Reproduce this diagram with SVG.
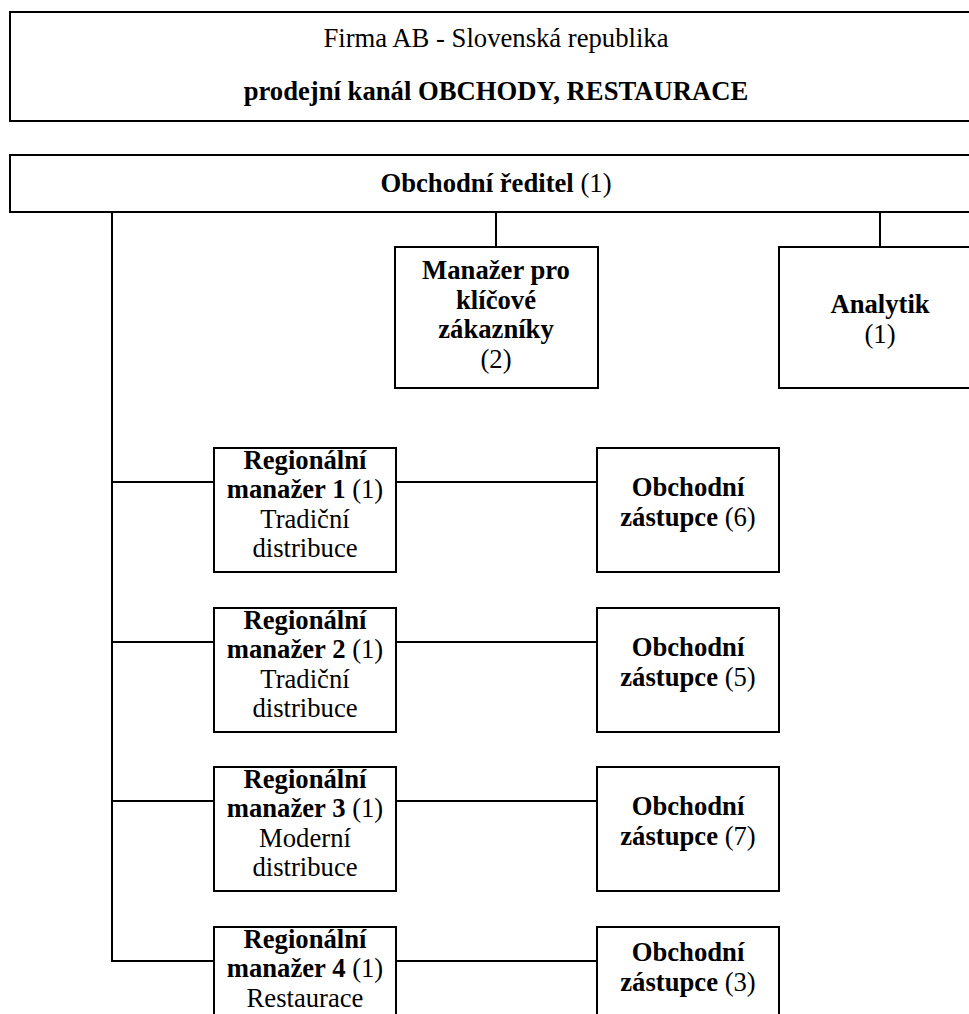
<svg xmlns="http://www.w3.org/2000/svg" width="969" height="1014" viewBox="0 0 969 1014">
  <style>
    .box { fill: #ffffff; stroke: #000000; stroke-width: 2; }
    .link { fill: none; stroke: #000000; stroke-width: 2; }
    text { font-family: "Liberation Serif", "Times New Roman", serif; font-size: 26.67px; fill: #000000; text-anchor: middle; }
    .b { font-weight: bold; }
  </style>
  <rect width="969" height="1014" fill="#ffffff"/>

  <!-- connectors -->
  <g id="connectors">
    <path class="link" d="M112 212 V961 H214"/>
    <path class="link" d="M112 482 H214"/>
    <path class="link" d="M112 642 H214"/>
    <path class="link" d="M112 801 H214"/>
    <path class="link" d="M496 212 V247"/>
    <path class="link" d="M880 212 V247"/>
    <path class="link" d="M396 482 H597"/>
    <path class="link" d="M396 642 H597"/>
    <path class="link" d="M396 801 H597"/>
    <path class="link" d="M396 961 H597"/>
  </g>

  <!-- header -->
  <g id="header">
    <rect class="box" x="10" y="12" width="972" height="109"/>
    <text x="496" y="47">Firma AB - Slovenská republika</text>
    <text x="496" y="100" class="b">prodejní kanál OBCHODY, RESTAURACE</text>
  </g>

  <!-- sales director -->
  <g id="director">
    <rect class="box" x="10" y="155" width="972" height="57"/>
    <text x="496" y="192"><tspan class="b">Obchodní ředitel</tspan> (1)</text>
  </g>

  <g id="key-accounts">
    <rect class="box" x="395" y="247" width="203" height="141"/>
    <text x="496" y="279" class="b">Manažer pro</text>
    <text x="496" y="308.5" class="b">klíčové</text>
    <text x="496" y="338" class="b">zákazníky</text>
    <text x="496" y="367.5">(2)</text>
  </g>

  <g id="analyst">
    <rect class="box" x="779" y="247" width="203" height="141"/>
    <text x="880" y="313" class="b">Analytik</text>
    <text x="880" y="343">(1)</text>
  </g>

  <!-- regional managers -->
  <g id="regional-1">
    <rect class="box" x="214" y="448" width="182" height="124"/>
    <text x="305" y="469" class="b">Regionální</text>
    <text x="305" y="498"><tspan class="b">manažer 1</tspan> (1)</text>
    <text x="305" y="528">Tradiční</text>
    <text x="305" y="557">distribuce</text>
  </g>
  <g id="regional-2">
    <rect class="box" x="214" y="608" width="182" height="124"/>
    <text x="305" y="629" class="b">Regionální</text>
    <text x="305" y="658"><tspan class="b">manažer 2</tspan> (1)</text>
    <text x="305" y="688">Tradiční</text>
    <text x="305" y="717">distribuce</text>
  </g>
  <g id="regional-3">
    <rect class="box" x="214" y="767" width="182" height="124"/>
    <text x="305" y="788" class="b">Regionální</text>
    <text x="305" y="817"><tspan class="b">manažer 3</tspan> (1)</text>
    <text x="305" y="847">Moderní</text>
    <text x="305" y="876">distribuce</text>
  </g>
  <g id="regional-4">
    <rect class="box" x="214" y="927" width="182" height="124"/>
    <text x="305" y="948" class="b">Regionální</text>
    <text x="305" y="977"><tspan class="b">manažer 4</tspan> (1)</text>
    <text x="305" y="1007">Restaurace</text>
  </g>

  <!-- sales representatives -->
  <g id="reps-1">
    <rect class="box" x="597" y="448" width="182" height="124"/>
    <text x="688" y="496" class="b">Obchodní</text>
    <text x="688" y="526"><tspan class="b">zástupce</tspan> (6)</text>
  </g>
  <g id="reps-2">
    <rect class="box" x="597" y="608" width="182" height="124"/>
    <text x="688" y="656" class="b">Obchodní</text>
    <text x="688" y="686"><tspan class="b">zástupce</tspan> (5)</text>
  </g>
  <g id="reps-3">
    <rect class="box" x="597" y="767" width="182" height="124"/>
    <text x="688" y="815" class="b">Obchodní</text>
    <text x="688" y="845"><tspan class="b">zástupce</tspan> (7)</text>
  </g>
  <g id="reps-4">
    <rect class="box" x="597" y="927" width="182" height="124"/>
    <text x="688" y="961" class="b">Obchodní</text>
    <text x="688" y="991"><tspan class="b">zástupce</tspan> (3)</text>
  </g>
</svg>
